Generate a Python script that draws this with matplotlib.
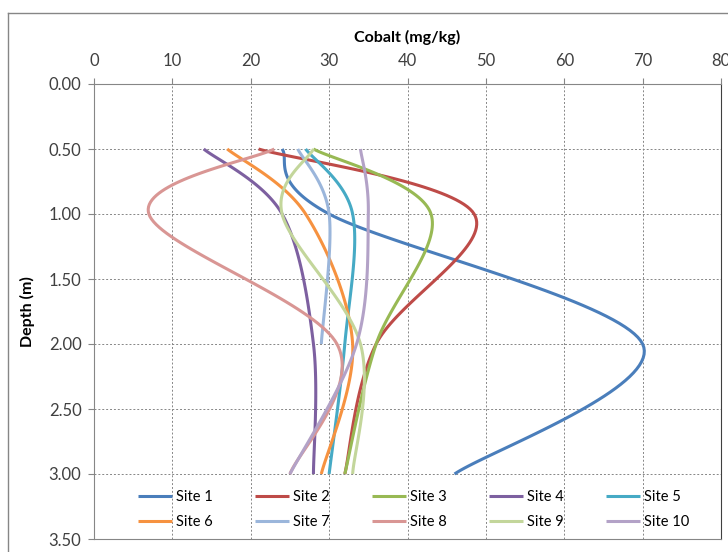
import numpy as np
import matplotlib.pyplot as plt
from matplotlib.lines import Line2D

plt.rcParams['font.family'] = ['Lato', 'DejaVu Sans']

depth = [0.5, 1.0, 2.0, 3.0]
sites = ["Site 1", "Site 2", "Site 3", "Site 4", "Site 5",
         "Site 6", "Site 7", "Site 8", "Site 9", "Site 10"]
site1 = [24, 30, 70, 46]
site2 = [21, 48.5, 36, 32]
site3 = [28, 43, 36, 32]
site4 = [14, 24, 28, 28]
site5 = [27, 33, 32, 30]
site6 = [17, 27, 33, 29]
site7 = [26, 30, 29, np.nan]
site8 = [23, 7, 31, 25]
site9 = [28, 24, 34, 33]
site10 = [34, 35, 33.5, 25]
values = [site1, site2, site3, site4, site5, site6, site7, site8, site9, site10]
colors = ['#4A7EBB', '#BE4B48', '#98B954', '#7D60A0', '#46AAC5',
          '#F69240', '#9BB6DB', '#D99694', '#C3D69B', '#B3A2C7']


def smooth(xs, ys, n=40):
    # catmull-rom, roughly what excel does for "smoothed line"
    pts = np.column_stack([xs, ys]).astype(float)
    pts = pts[~np.isnan(pts).any(axis=1)]
    P = np.vstack([pts[0], pts, pts[-1]])
    t = np.linspace(0, 1, n)[:, None]
    out = []
    for i in range(1, len(P) - 2):
        p0, p1, p2, p3 = P[i - 1], P[i], P[i + 1], P[i + 2]
        seg = 0.5 * (2 * p1 + (-p0 + p2) * t
                     + (2 * p0 - 5 * p1 + 4 * p2 - p3) * t ** 2
                     + (-p0 + 3 * p1 - 3 * p2 + p3) * t ** 3)
        out.append(seg)
    return np.vstack(out)


fig = plt.figure(figsize=(7.28, 5.52), dpi=100)
ax = fig.add_axes([94 / 728, 1 - 539 / 552, (721 - 94) / 728, (539 - 84) / 552])

lines = []
for name, vals, c in zip(sites, values, colors):
    s = smooth(vals, depth)
    ln, = ax.plot(s[:, 0], s[:, 1], color=c, lw=2.2, label=name, solid_capstyle='butt')
    lines.append(ln)

ax.set_xlim(0, 80)
ax.set_ylim(3.5, 0)
ax.set_xticks(np.arange(0, 81, 10))
ax.set_yticks(np.arange(0, 3.51, 0.5))
ax.set_yticklabels([f"{v:.2f}" for v in np.arange(0, 3.51, 0.5)])
ax.xaxis.tick_top()
ax.xaxis.set_label_position('top')
ax.tick_params(axis='both', labelsize=12, colors='#404040', length=4, color='#868686', pad=5)
ax.tick_params(axis='x', pad=7)
ax.set_xlabel("Cobalt (mg/kg)", fontsize=11.5, fontweight='bold', labelpad=8)
ax.set_ylabel("Depth (m)", fontsize=11.5, fontweight='bold', labelpad=10)
ax.grid(True, color='#868686', linestyle=(0, (2, 2)), linewidth=0.7)
ax.set_axisbelow(True)
for side in ['left', 'top', 'bottom']:
    ax.spines[side].set_color('#868686')
ax.spines['right'].set_color('#404040')

# matplotlib fills legend columns first, so interleave for row order
order = [0, 5, 1, 6, 2, 7, 3, 8, 4, 9]
ax.legend([lines[i] for i in order], [sites[i] for i in order],
          ncol=5, loc='lower center', bbox_to_anchor=(0.51, 0.0), frameon=False,
          fontsize=10.5, handlelength=2.33, columnspacing=2.9, handletextpad=0.27,
          labelspacing=0.75, borderaxespad=0.3)

# chart area border (right/bottom edges are cut off in the original)
fig.add_artist(Line2D([8 / 728, 8 / 728], [0, 1 - 13 / 552], color='#868686', lw=1))
fig.add_artist(Line2D([8 / 728, 1], [1 - 13 / 552, 1 - 13 / 552], color='#868686', lw=1))

fig.savefig("out.png", dpi=100)
